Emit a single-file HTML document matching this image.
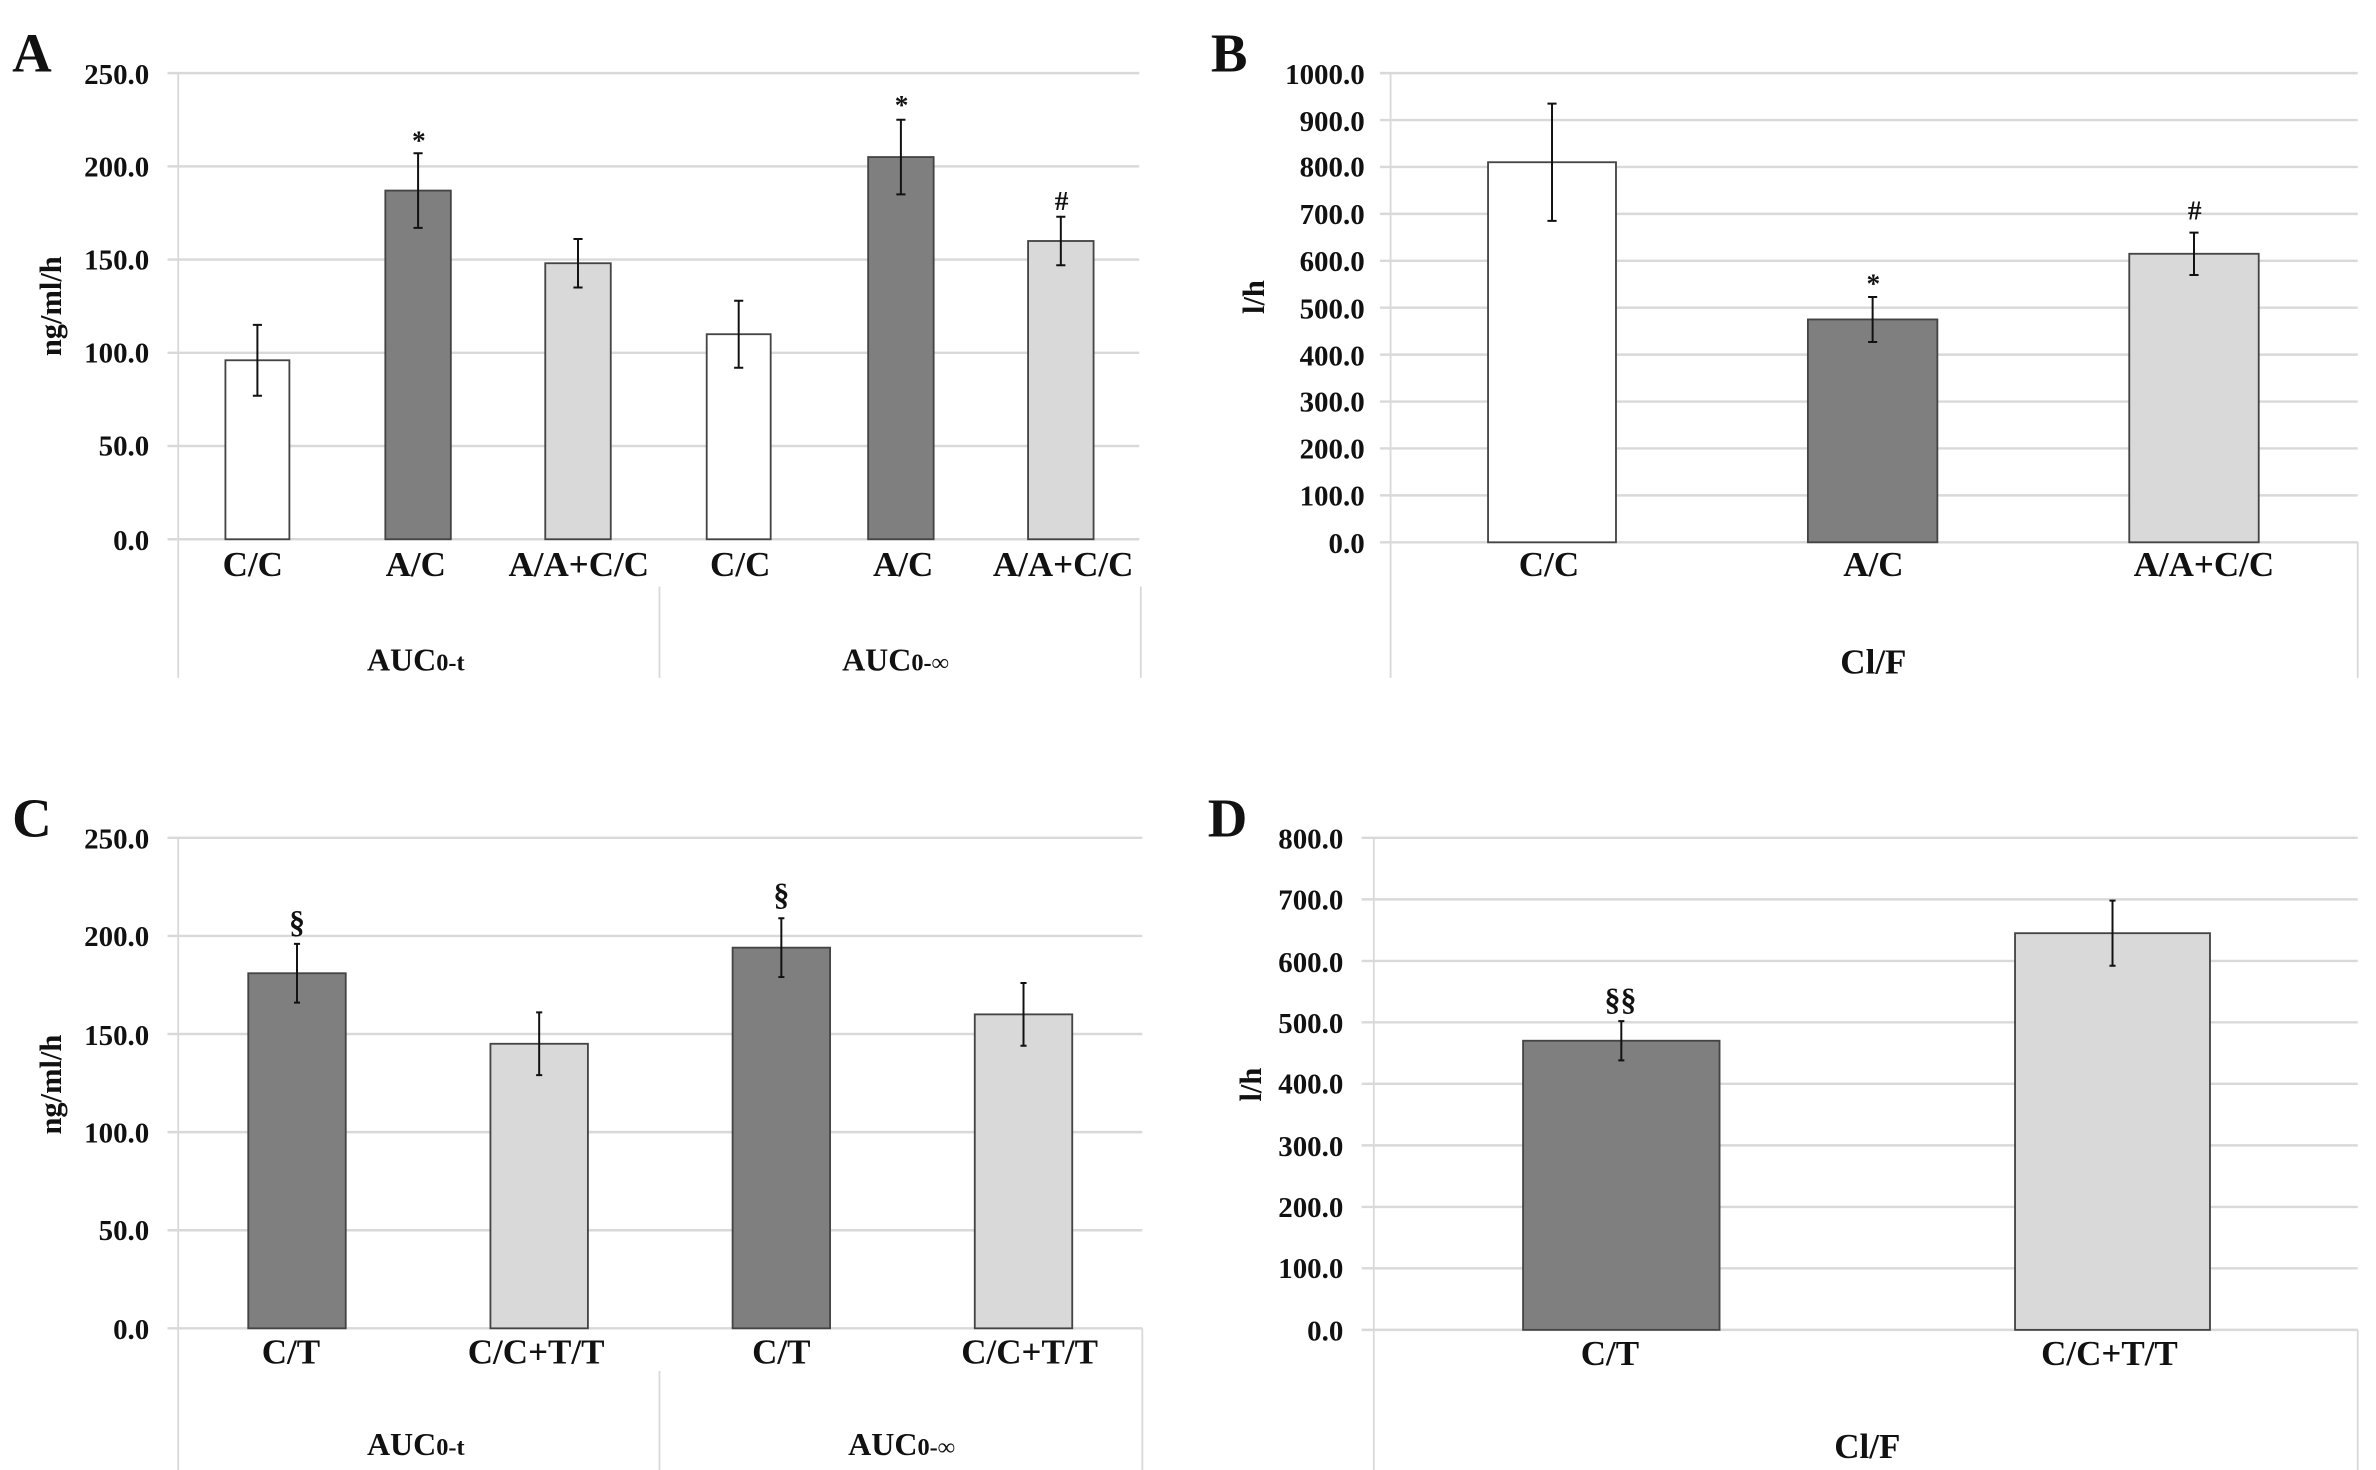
<!DOCTYPE html>
<html><head><meta charset="utf-8"><style>
html,body{margin:0;padding:0;background:#fff}
svg{display:block}
text{font-family:"Liberation Serif",serif;font-weight:bold;fill:#111}
.t{font-size:19px;text-anchor:end}
.c{font-size:23px;text-anchor:middle}
.g{stroke:#d9d9d9;stroke-width:1.6}
.v{stroke:#d9d9d9;stroke-width:1.2}
.e{stroke:#111;stroke-width:1.3}
.b{stroke:#444;stroke-width:1.2}
.L{font-size:36px}
</style></head><body>
<svg width="2376" height="1470" viewBox="0 0 1560 965" preserveAspectRatio="none" xmlns="http://www.w3.org/2000/svg">
<!-- Panel A -->
<text class="L" x="8" y="47">A</text>
<g>
<line class="g" x1="110" y1="48" x2="748" y2="48"/><line class="g" x1="110" y1="109.2" x2="748" y2="109.2"/>
<line class="g" x1="110" y1="170.4" x2="748" y2="170.4"/><line class="g" x1="110" y1="231.6" x2="748" y2="231.6"/>
<line class="g" x1="110" y1="292.8" x2="748" y2="292.8"/><line class="g" x1="110" y1="354" x2="748" y2="354"/>
<line class="v" x1="117" y1="48" x2="117" y2="445"/><line class="v" x1="433" y1="385" x2="433" y2="445"/><line class="v" x1="749" y1="385" x2="749" y2="445"/>
<text class="t" x="98" y="55">250.0</text><text class="t" x="98" y="116">200.0</text><text class="t" x="98" y="177">150.0</text>
<text class="t" x="98" y="238">100.0</text><text class="t" x="98" y="299">50.0</text><text class="t" x="98" y="361">0.0</text>
<text x="40" y="201" transform="rotate(-90 40 201)" style="font-size:20px;text-anchor:middle">ng/ml/h</text>
<rect class="b" x="148" y="236.5" width="42" height="117.5" fill="#fff"/>
<rect class="b" x="253" y="125.1" width="43" height="228.9" fill="#7f7f7f"/>
<rect class="b" x="358" y="172.8" width="43" height="181.2" fill="#d9d9d9"/>
<rect class="b" x="464" y="219.4" width="42" height="134.6" fill="#fff"/>
<rect class="b" x="570" y="103.1" width="43" height="250.9" fill="#7f7f7f"/>
<rect class="b" x="675" y="158.2" width="43" height="195.8" fill="#d9d9d9"/>
<path class="e" d="M169 213.3V259.8M166 213.3h6M166 259.8h6 M274.5 100.6V149.6M271.5 100.6h6M271.5 149.6h6 M379.5 156.9V188.7M376.5 156.9h6M376.5 188.7h6 M485 197.4V241.4M482 197.4h6M482 241.4h6 M591.5 78.6V127.6M588.5 78.6h6M588.5 127.6h6 M696.5 142.3V174.1M693.5 142.3h6M693.5 174.1h6"/>
<text class="c" x="275" y="98" style="font-size:18px">*</text><text class="c" x="592" y="75" style="font-size:18px">*</text>
<text class="c" x="697" y="138" style="font-size:18px">#</text>
<text class="c" x="166" y="378">C/C</text><text class="c" x="273" y="378">A/C</text><text class="c" x="380" y="378">A/A+C/C</text>
<text class="c" x="486" y="378">C/C</text><text class="c" x="593" y="378">A/C</text><text class="c" x="698" y="378">A/A+C/C</text>
<text class="c" x="273" y="440" style="font-size:21px">AUC<tspan style="font-size:16px">0-t</tspan></text>
<text class="c" x="588" y="440" style="font-size:21px">AUC<tspan style="font-size:16px">0-∞</tspan></text>
</g>
<!-- Panel B -->
<text class="L" x="795" y="47">B</text>
<g>
<line class="g" x1="906" y1="48" x2="1548" y2="48"/><line class="g" x1="906" y1="78.8" x2="1548" y2="78.8"/><line class="g" x1="906" y1="109.6" x2="1548" y2="109.6"/>
<line class="g" x1="906" y1="140.4" x2="1548" y2="140.4"/><line class="g" x1="906" y1="171.2" x2="1548" y2="171.2"/><line class="g" x1="906" y1="202" x2="1548" y2="202"/>
<line class="g" x1="906" y1="232.8" x2="1548" y2="232.8"/><line class="g" x1="906" y1="263.6" x2="1548" y2="263.6"/><line class="g" x1="906" y1="294.4" x2="1548" y2="294.4"/>
<line class="g" x1="906" y1="325.2" x2="1548" y2="325.2"/><line class="g" x1="906" y1="356" x2="1548" y2="356"/>
<line class="v" x1="913" y1="48" x2="913" y2="445"/><line class="v" x1="1548" y1="356" x2="1548" y2="445"/>
<text class="t" x="896" y="55">1000.0</text><text class="t" x="896" y="86">900.0</text><text class="t" x="896" y="116">800.0</text>
<text class="t" x="896" y="147">700.0</text><text class="t" x="896" y="178">600.0</text><text class="t" x="896" y="209">500.0</text>
<text class="t" x="896" y="240">400.0</text><text class="t" x="896" y="270">300.0</text><text class="t" x="896" y="301">200.0</text>
<text class="t" x="896" y="332">100.0</text><text class="t" x="896" y="363">0.0</text>
<text x="830" y="195" transform="rotate(-90 830 195)" style="font-size:20px;text-anchor:middle">l/h</text>
<rect class="b" x="977" y="106.5" width="84" height="249.5" fill="#fff"/>
<rect class="b" x="1187" y="209.7" width="85" height="146.3" fill="#7f7f7f"/>
<rect class="b" x="1398" y="166.6" width="85" height="189.4" fill="#d9d9d9"/>
<path class="e" d="M1019 68V145M1016 68h6M1016 145h6 M1229.5 195V224.5M1226.5 195h6M1226.5 224.5h6 M1440.5 152.7V180.5M1437.5 152.7h6M1437.5 180.5h6"/>
<text class="c" x="1230" y="192" style="font-size:18px">*</text><text class="c" x="1441" y="144" style="font-size:18px">#</text>
<text class="c" x="1017" y="378">C/C</text><text class="c" x="1230" y="378">A/C</text><text class="c" x="1447" y="378">A/A+C/C</text>
<text class="c" x="1230" y="442" style="font-size:23px">Cl/F</text>
</g>
<!-- Panel C -->
<text class="L" x="8" y="549">C</text>
<g>
<line class="g" x1="110" y1="550" x2="750" y2="550"/><line class="g" x1="110" y1="614.4" x2="750" y2="614.4"/><line class="g" x1="110" y1="678.8" x2="750" y2="678.8"/>
<line class="g" x1="110" y1="743.2" x2="750" y2="743.2"/><line class="g" x1="110" y1="807.6" x2="750" y2="807.6"/><line class="g" x1="110" y1="872" x2="750" y2="872"/>
<line class="v" x1="117" y1="550" x2="117" y2="965"/><line class="v" x1="433" y1="900" x2="433" y2="965"/><line class="v" x1="750" y1="872" x2="750" y2="965"/>
<text class="t" x="98" y="557">250.0</text><text class="t" x="98" y="621">200.0</text><text class="t" x="98" y="686">150.0</text>
<text class="t" x="98" y="750">100.0</text><text class="t" x="98" y="814">50.0</text><text class="t" x="98" y="879">0.0</text>
<text x="40" y="712" transform="rotate(-90 40 712)" style="font-size:20px;text-anchor:middle">ng/ml/h</text>
<rect class="b" x="163" y="638.9" width="64" height="233.1" fill="#7f7f7f"/>
<rect class="b" x="322" y="685.2" width="64" height="186.8" fill="#d9d9d9"/>
<rect class="b" x="481" y="622.1" width="64" height="249.9" fill="#7f7f7f"/>
<rect class="b" x="640" y="665.9" width="64" height="206.1" fill="#d9d9d9"/>
<path class="e" d="M195 619.6V658.2M193 619.6h4M193 658.2h4 M354 664.6V705.8M352 664.6h4M352 705.8h4 M513 602.8V641.4M511 602.8h4M511 641.4h4 M672 645.3V686.5M670 645.3h4M670 686.5h4"/>
<text class="c" x="195" y="612" style="font-size:21px">§</text><text class="c" x="513" y="594" style="font-size:21px">§</text>
<text class="c" x="191" y="895">C/T</text><text class="c" x="352" y="895">C/C+T/T</text>
<text class="c" x="513" y="895">C/T</text><text class="c" x="676" y="895">C/C+T/T</text>
<text class="c" x="273" y="955" style="font-size:21px">AUC<tspan style="font-size:16px">0-t</tspan></text>
<text class="c" x="592" y="955" style="font-size:21px">AUC<tspan style="font-size:16px">0-∞</tspan></text>
</g>
<!-- Panel D -->
<text class="L" x="793" y="549">D</text>
<g>
<line class="g" x1="894" y1="550" x2="1548" y2="550"/><line class="g" x1="894" y1="590.4" x2="1548" y2="590.4"/><line class="g" x1="894" y1="630.8" x2="1548" y2="630.8"/>
<line class="g" x1="894" y1="671.1" x2="1548" y2="671.1"/><line class="g" x1="894" y1="711.5" x2="1548" y2="711.5"/><line class="g" x1="894" y1="751.9" x2="1548" y2="751.9"/>
<line class="g" x1="894" y1="792.3" x2="1548" y2="792.3"/><line class="g" x1="894" y1="832.6" x2="1548" y2="832.6"/><line class="g" x1="894" y1="873" x2="1548" y2="873"/>
<line class="v" x1="902" y1="550" x2="902" y2="965"/><line class="v" x1="1548" y1="873" x2="1548" y2="965"/>
<text class="t" x="882" y="557">800.0</text><text class="t" x="882" y="597">700.0</text><text class="t" x="882" y="638">600.0</text>
<text class="t" x="882" y="678">500.0</text><text class="t" x="882" y="718">400.0</text><text class="t" x="882" y="759">300.0</text>
<text class="t" x="882" y="799">200.0</text><text class="t" x="882" y="839">100.0</text><text class="t" x="882" y="880">0.0</text>
<text x="828" y="712" transform="rotate(-90 828 712)" style="font-size:20px;text-anchor:middle">l/h</text>
<rect class="b" x="1000" y="683.2" width="129" height="189.8" fill="#7f7f7f"/>
<rect class="b" x="1323" y="612.6" width="128" height="260.4" fill="#d9d9d9"/>
<path class="e" d="M1064.5 670.3V696.1M1062.5 670.3h4M1062.5 696.1h4 M1387 591.2V634M1385 591.2h4M1385 634h4"/>
<text class="c" x="1064" y="663" style="font-size:21px">§§</text>
<text class="c" x="1057" y="896">C/T</text><text class="c" x="1385" y="896">C/C+T/T</text>
<text class="c" x="1226" y="957" style="font-size:23px">Cl/F</text>
</g>
</svg>
</body></html>
